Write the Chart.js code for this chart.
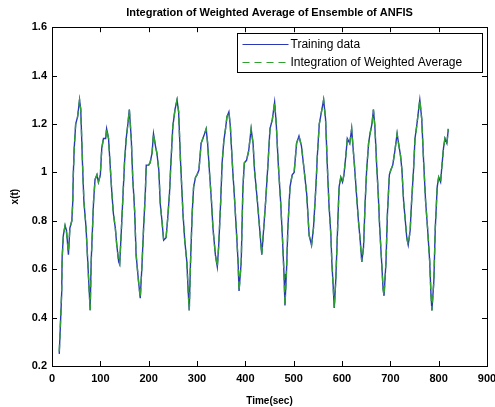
<!DOCTYPE html>
<html>
<head>
<meta charset="utf-8">
<title>Integration of Weighted Average of Ensemble of ANFIS</title>
<script src="https://cdn.jsdelivr.net/npm/chart.js@4.4.1/dist/chart.umd.min.js"></script>
<style>
    html, body { margin: 0; padding: 0; background: #fff; }
    #wrap { width: 495px; height: 407px; }
</style>
</head>
<body>
<div id="wrap"><canvas id="anfisChart"></canvas></div>
<script>
// Time axis (sec) where the curve was sampled
const timeSec = [
    15, 18, 20, 21, 23.5, 27, 30, 34, 37, 41, 43, 44, 46, 49, 53, 57, 59.5, 63, 66, 70.5,
    74, 79, 81, 86, 89, 93, 96, 100, 103, 106.5, 111, 113, 117, 120, 124, 127, 131, 134, 138, 140,
    143, 147, 150, 153.5, 157, 160, 164, 167, 171, 174, 179, 182.6, 186, 189.5, 193, 195, 200, 203, 207, 210,
    214, 217, 221, 224, 227.5, 231, 236, 239, 243, 246, 250, 254.5, 258.7, 262, 265.6, 271, 274.6, 279, 282, 284,
    286.3, 290, 293, 297, 300, 304, 308.5, 314, 319, 322, 326.5, 330, 333, 338, 342, 345, 349, 352, 355.5, 359,
    362, 366, 369, 373, 378, 382, 385, 387, 391.5, 395, 398, 402.5, 407, 412, 416, 419, 425, 429.5, 434, 437,
    442, 447, 451, 456, 460.6, 464, 468, 473, 477, 480, 482, 485.5, 488, 492.4, 497, 501, 506, 511, 516, 520,
    527, 532, 537, 541, 546, 549, 553, 557.5, 562, 566, 570, 573, 577, 579, 582, 584, 587, 589, 592, 594,
    597.5, 601, 604, 608, 611, 616, 620, 623, 626.5, 630, 634, 637.6, 641, 644.5, 648, 651, 655, 658, 662, 665,
    668, 671.5, 675, 678, 682, 685, 687, 691, 694, 698, 701, 705, 709.5, 714, 717, 721, 724, 727.5, 731, 734,
    737, 741, 744, 748, 751, 754.5, 758, 761, 765, 769, 773, 777, 781.5, 784, 786, 790, 793, 797, 800, 804,
    806, 810, 813, 817, 820
];

// Training data (blue, solid)
const trainingData = [
    0.25, 0.40, 0.50, 0.65, 0.74, 0.78, 0.76, 0.66, 0.77, 0.80, 0.88, 0.99, 1.10, 1.20, 1.23, 1.30, 1.26, 1.04, 0.88, 0.77,
    0.63, 0.43, 0.63, 0.88, 0.97, 0.99, 0.96, 0.99, 1.10, 1.14, 1.14, 1.18, 1.14, 1.04, 0.91, 0.83, 0.77, 0.70, 0.63, 0.62,
    0.74, 0.91, 1.04, 1.14, 1.20, 1.26, 1.14, 0.98, 0.84, 0.66, 0.55, 0.48, 0.61, 0.77, 0.91, 1.03, 1.03, 1.04, 1.08, 1.16,
    1.11, 1.08, 1.01, 0.87, 0.80, 0.72, 0.73, 0.80, 0.91, 1.04, 1.19, 1.26, 1.30, 1.25, 1.06, 0.83, 0.72, 0.63, 0.50, 0.43,
    0.61, 0.83, 0.94, 0.98, 0.99, 1.01, 1.12, 1.15, 1.18, 1.12, 0.98, 0.88, 0.77, 0.66, 0.61, 0.70, 0.88, 1.04, 1.13, 1.18,
    1.23, 1.25, 1.19, 1.04, 0.88, 0.74, 0.63, 0.51, 0.63, 0.94, 1.04, 1.05, 1.09, 1.18, 1.12, 1.01, 0.88, 0.77, 0.66, 0.74,
    0.88, 1.04, 1.18, 1.22, 1.29, 1.20, 1.04, 0.88, 0.72, 0.58, 0.45, 0.61, 0.77, 0.94, 0.99, 1.00, 1.12, 1.15, 1.11, 1.04,
    0.91, 0.74, 0.70, 0.77, 0.94, 1.07, 1.20, 1.25, 1.30, 1.22, 1.01, 0.87, 0.74, 0.63, 0.52, 0.44, 0.55, 0.66, 0.83, 0.94,
    0.98, 0.96, 0.99, 1.07, 1.14, 1.12, 1.18, 1.10, 1.01, 0.91, 0.80, 0.72, 0.63, 0.69, 0.88, 1.01, 1.12, 1.16, 1.20, 1.26,
    1.19, 1.04, 0.91, 0.77, 0.63, 0.52, 0.49, 0.63, 0.83, 0.99, 1.01, 1.03, 1.09, 1.16, 1.12, 1.07, 1.01, 0.88, 0.80, 0.73,
    0.70, 0.76, 0.88, 1.01, 1.14, 1.19, 1.25, 1.30, 1.22, 1.04, 0.88, 0.77, 0.63, 0.50, 0.43, 0.55, 0.77, 0.94, 0.98, 0.96,
    1.01, 1.10, 1.14, 1.12, 1.18
];

// Integration of Weighted Average (green, dashed) - follows training data almost exactly
const weightedAvg = [
    0.26, 0.40, 0.51, 0.64, 0.74, 0.78, 0.75, 0.67, 0.77, 0.80, 0.88, 0.98, 1.10, 1.20, 1.23, 1.30, 1.26, 1.05, 0.88, 0.77,
    0.63, 0.43, 0.62, 0.88, 0.97, 0.99, 0.96, 0.99, 1.10, 1.14, 1.14, 1.18, 1.14, 1.04, 0.91, 0.83, 0.77, 0.70, 0.63, 0.62,
    0.74, 0.91, 1.04, 1.14, 1.20, 1.26, 1.14, 0.98, 0.84, 0.66, 0.55, 0.48, 0.61, 0.77, 0.91, 1.03, 1.03, 1.04, 1.08, 1.16,
    1.11, 1.08, 1.01, 0.87, 0.80, 0.72, 0.73, 0.80, 0.91, 1.04, 1.19, 1.26, 1.30, 1.25, 1.06, 0.83, 0.72, 0.63, 0.50, 0.43,
    0.61, 0.83, 0.94, 0.98, 0.99, 1.01, 1.12, 1.15, 1.18, 1.12, 0.98, 0.88, 0.77, 0.66, 0.61, 0.70, 0.88, 1.04, 1.13, 1.18,
    1.23, 1.25, 1.19, 1.04, 0.88, 0.74, 0.63, 0.51, 0.63, 0.94, 1.04, 1.05, 1.09, 1.18, 1.12, 1.01, 0.88, 0.77, 0.66, 0.74,
    0.88, 1.04, 1.18, 1.22, 1.29, 1.20, 1.04, 0.88, 0.72, 0.58, 0.45, 0.61, 0.77, 0.94, 0.99, 1.00, 1.12, 1.15, 1.11, 1.04,
    0.91, 0.74, 0.70, 0.77, 0.94, 1.07, 1.20, 1.25, 1.30, 1.22, 1.01, 0.87, 0.74, 0.63, 0.52, 0.44, 0.55, 0.66, 0.83, 0.94,
    0.98, 0.96, 0.99, 1.07, 1.14, 1.12, 1.18, 1.10, 1.01, 0.91, 0.80, 0.72, 0.63, 0.69, 0.88, 1.01, 1.12, 1.16, 1.20, 1.26,
    1.19, 1.04, 0.91, 0.77, 0.63, 0.52, 0.49, 0.63, 0.83, 0.99, 1.01, 1.03, 1.09, 1.16, 1.12, 1.07, 1.01, 0.88, 0.80, 0.73,
    0.70, 0.76, 0.88, 1.01, 1.14, 1.19, 1.25, 1.30, 1.22, 1.04, 0.88, 0.77, 0.63, 0.50, 0.43, 0.55, 0.77, 0.94, 0.98, 0.96,
    1.01, 1.10, 1.14, 1.12, 1.18
];

const xTickValues = [0, 100, 200, 300, 400, 500, 600, 700, 800, 900];
const yTickValues = [0.2, 0.4, 0.6, 0.8, 1.0, 1.2, 1.4, 1.6];
const yTickLabels = ['0.2', '0.4', '0.6', '0.8', '1', '1.2', '1.4', '1.6'];

const seriesNames = ['Training data', 'Integration of Weighted Average'];

const FONT = "'Liberation Sans', Arial, sans-serif";

// box around the plot with small inward ticks on all four sides (matlab style)
const frameTicks = {
    id: 'frameTicks',
    afterDatasetsDraw(chart) {
        const { ctx, chartArea: a, scales } = chart;
        const len = 5;
        ctx.save();
        ctx.strokeStyle = '#000';
        ctx.lineWidth = 1;
        ctx.strokeRect(Math.round(a.left) + 0.5, Math.round(a.top) + 0.5,
            Math.round(a.right - a.left), Math.round(a.bottom - a.top));
        ctx.beginPath();
        xTickValues.forEach(v => {
            const px = Math.round(scales.x.getPixelForValue(v)) + 0.5;
            ctx.moveTo(px, a.bottom); ctx.lineTo(px, a.bottom - len);
            ctx.moveTo(px, a.top); ctx.lineTo(px, a.top + len);
        });
        yTickValues.forEach(v => {
            const py = Math.round(scales.y.getPixelForValue(v)) + 0.5;
            ctx.moveTo(a.left, py); ctx.lineTo(a.left + len, py);
            ctx.moveTo(a.right, py); ctx.lineTo(a.right - len, py);
        });
        ctx.stroke();
        ctx.restore();
    }
};

// legend box in the upper right corner of the axes
const boxLegend = {
    id: 'boxLegend',
    afterDraw(chart) {
        const { ctx, chartArea: a } = chart;
        const w = 245, h = 39;
        const left = Math.round(a.right - 5 - w) + 0.5;
        const top = Math.round(a.top + 6) + 0.5;
        ctx.save();
        ctx.fillStyle = '#fff';
        ctx.fillRect(left, top, w, h);
        ctx.strokeStyle = '#000';
        ctx.lineWidth = 1;
        ctx.strokeRect(left, top, w, h);
        ctx.font = '12px ' + FONT;
        ctx.textBaseline = 'middle';
        chart.data.datasets.forEach((ds, i) => {
            const y = top + 11 + i * 18;
            ctx.beginPath();
            ctx.strokeStyle = ds.borderColor;
            ctx.lineWidth = 1.2;
            ctx.setLineDash(ds.borderDash || []);
            ctx.moveTo(left + 5, y);
            ctx.lineTo(left + 51, y);
            ctx.stroke();
            ctx.setLineDash([]);
            ctx.fillStyle = '#000';
            ctx.fillText(ds.label, left + 53, y);
        });
        ctx.restore();
    }
};

const ctx = document.getElementById('anfisChart').getContext('2d');

const anfisChart = new Chart(ctx, {
    type: 'line',
    data: {
        datasets: [
            {
                label: seriesNames[0],
                data: timeSec.map((t, i) => ({ x: t, y: trainingData[i] })),
                borderColor: '#2a38b8',
                borderWidth: 1.4,
                pointRadius: 0,
                tension: 0,
                fill: false,
                order: 2
            },
            {
                // drawn on top of the blue line, as in the original
                label: seriesNames[1],
                data: timeSec.map((t, i) => ({ x: t, y: weightedAvg[i] })),
                borderColor: '#30a030',
                borderWidth: 1.4,
                borderDash: [7, 5],
                pointRadius: 0,
                tension: 0,
                fill: false,
                order: 1
            }
        ]
    },
    options: {
        responsive: true,
        maintainAspectRatio: false,
        animation: false,
        layout: {
            padding: { top: 1, right: 8, bottom: 0, left: 0 }
        },
        scales: {
            x: {
                type: 'linear',
                min: 0,
                max: 900,
                afterBuildTicks: (scale) => {
                    scale.ticks = xTickValues.map(v => ({ value: v }));
                },
                afterFit: (scale) => {
                    scale.height = 41;
                    // let the "900" label hang into the right margin like the original
                    scale.paddingRight = 0;
                    scale.paddingLeft = 0;
                },
                grid: { display: false, drawTicks: false },
                border: { display: false },
                ticks: {
                    color: '#000',
                    padding: 6,
                    maxRotation: 0,
                    font: { family: FONT, size: 11, weight: 'bold' }
                },
                title: {
                    display: true,
                    text: 'Time(sec)',
                    color: '#000',
                    padding: { top: 2, bottom: 0 },
                    font: { family: FONT, size: 10, weight: 'bold' }
                }
            },
            y: {
                type: 'linear',
                min: 0.2,
                max: 1.6,
                afterBuildTicks: (scale) => {
                    scale.ticks = yTickValues.map(v => ({ value: v }));
                },
                afterFit: (scale) => { scale.width = 52; },
                grid: { display: false, drawTicks: false },
                border: { display: false },
                ticks: {
                    color: '#000',
                    padding: 5,
                    font: { family: FONT, size: 11, weight: 'bold' },
                    callback: (value) => {
                        const i = yTickValues.findIndex(v => Math.abs(v - value) < 1e-6);
                        return i >= 0 ? yTickLabels[i] : '';
                    }
                },
                title: {
                    display: true,
                    text: 'x(t)',
                    color: '#000',
                    padding: { top: 9, bottom: 0 },
                    font: { family: FONT, size: 10, weight: 'bold' }
                }
            }
        },
        plugins: {
            legend: { display: false },
            tooltip: { enabled: false },
            title: {
                display: true,
                fullSize: false,
                text: 'Integration of Weighted Average of Ensemble of ANFIS',
                color: '#000',
                padding: { top: 5, bottom: 8 },
                font: { family: FONT, size: 11, weight: 'bold' }
            }
        }
    },
    plugins: [frameTicks, boxLegend]
});
</script>
</body>
</html>
